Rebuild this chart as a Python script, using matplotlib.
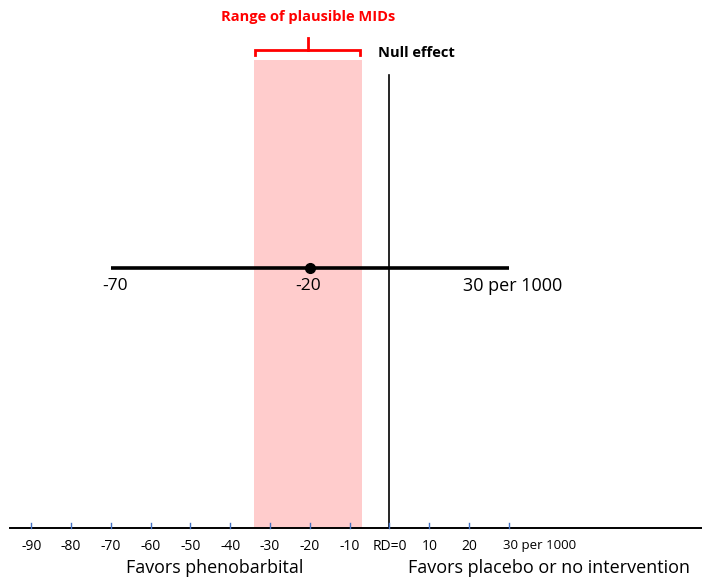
import matplotlib
matplotlib.use("Agg")
import matplotlib.pyplot as plt

# Risk difference (per 1000) estimate and 95% CI
point_estimate = -20
ci_low = -70
ci_high = 30
# Range of plausible minimal important differences
mid_low = -34
mid_high = -7
null_value = 0

tick_values = [-90, -80, -70, -60, -50, -40, -30, -20, -10, 0, 10, 20, 30]
tick_labels = ["-90", "-80", "-70", "-60", "-50", "-40", "-30", "-20", "-10", "RD=0", "10", "20", "30 per 1000"]

W, H = 702, 581
fig = plt.figure(figsize=(W / 100, H / 100), dpi=100)
ax = fig.add_axes([0, 0, 1, 1])
px_per_unit = 3.98
x0_px = 389.5
ax.set_xlim(-x0_px / px_per_unit, (W - x0_px) / px_per_unit)
ax.set_ylim(H, 0)
ax.axis("off")

FONT = "Open Sans"
axis_y = 527.5

# shaded MID band
ax.fill_between([mid_low, mid_high], 60, axis_y, color="#ffcccc", lw=0, zorder=1)

# bracket above the band
red = "#ff0000"
mid_c = (mid_low + mid_high) / 2
ax.plot([mid_low + 0.3, mid_low + 0.3, mid_high - 0.3, mid_high - 0.3],
        [55, 50, 50, 55], color=red, lw=2, solid_joinstyle="miter", zorder=3)
ax.plot([mid_c, mid_c], [50, 38], color=red, lw=2, zorder=3)
ax.text(mid_c, 17, "Range of plausible MIDs", color=red, fontsize=10.5,
        fontweight="bold", family=FONT, ha="center", va="center")

# null effect line
ax.plot([null_value, null_value], [75, axis_y], color="black", lw=1.2, zorder=3)
ax.text(null_value - 3, 53, "Null effect", color="black", fontsize=10.5,
        fontweight="bold", family=FONT, ha="left", va="center")

# confidence interval and point estimate
ci_y = 268
ax.plot([ci_low, ci_high], [ci_y, ci_y], color="black", lw=2.6,
        solid_capstyle="butt", zorder=4)
ax.plot([point_estimate], [ci_y], "o", color="black", ms=7, zorder=5)
ax.text(ci_low + 1, 286, f"{ci_low}", fontsize=12.5, family=FONT, ha="center", va="center")
ax.text(point_estimate - 0.5, 286, f"{point_estimate}", fontsize=12.5, family=FONT, ha="center", va="center")
ax.text(ci_high + 1, 286, f"{ci_high} per 1000", fontsize=13, family=FONT, ha="center", va="center")

# axis line with blue ticks
ax.plot([(10 - x0_px) / px_per_unit, (W - x0_px) / px_per_unit], [axis_y, axis_y],
        color="black", lw=1.4, zorder=4)
for v, lab in zip(tick_values, tick_labels):
    ax.plot([v, v], [axis_y - 4.5, axis_y], color="#4472c4", lw=1, zorder=4)
    if lab == "30 per 1000":
        ax.text(v - 1.5, 546, lab, fontsize=9.5, family=FONT, ha="left", va="center")
    else:
        ax.text(v, 546, lab, fontsize=10, family=FONT, ha="center", va="center")

ax.text(-43.8, 568, "Favors phenobarbital", fontsize=12.9, family=FONT, ha="center", va="center")
ax.text(40.0, 568, "Favors placebo or no intervention", fontsize=13.0, family=FONT,
        ha="center", va="center")

fig.savefig("out.png", dpi=100, facecolor="white")
